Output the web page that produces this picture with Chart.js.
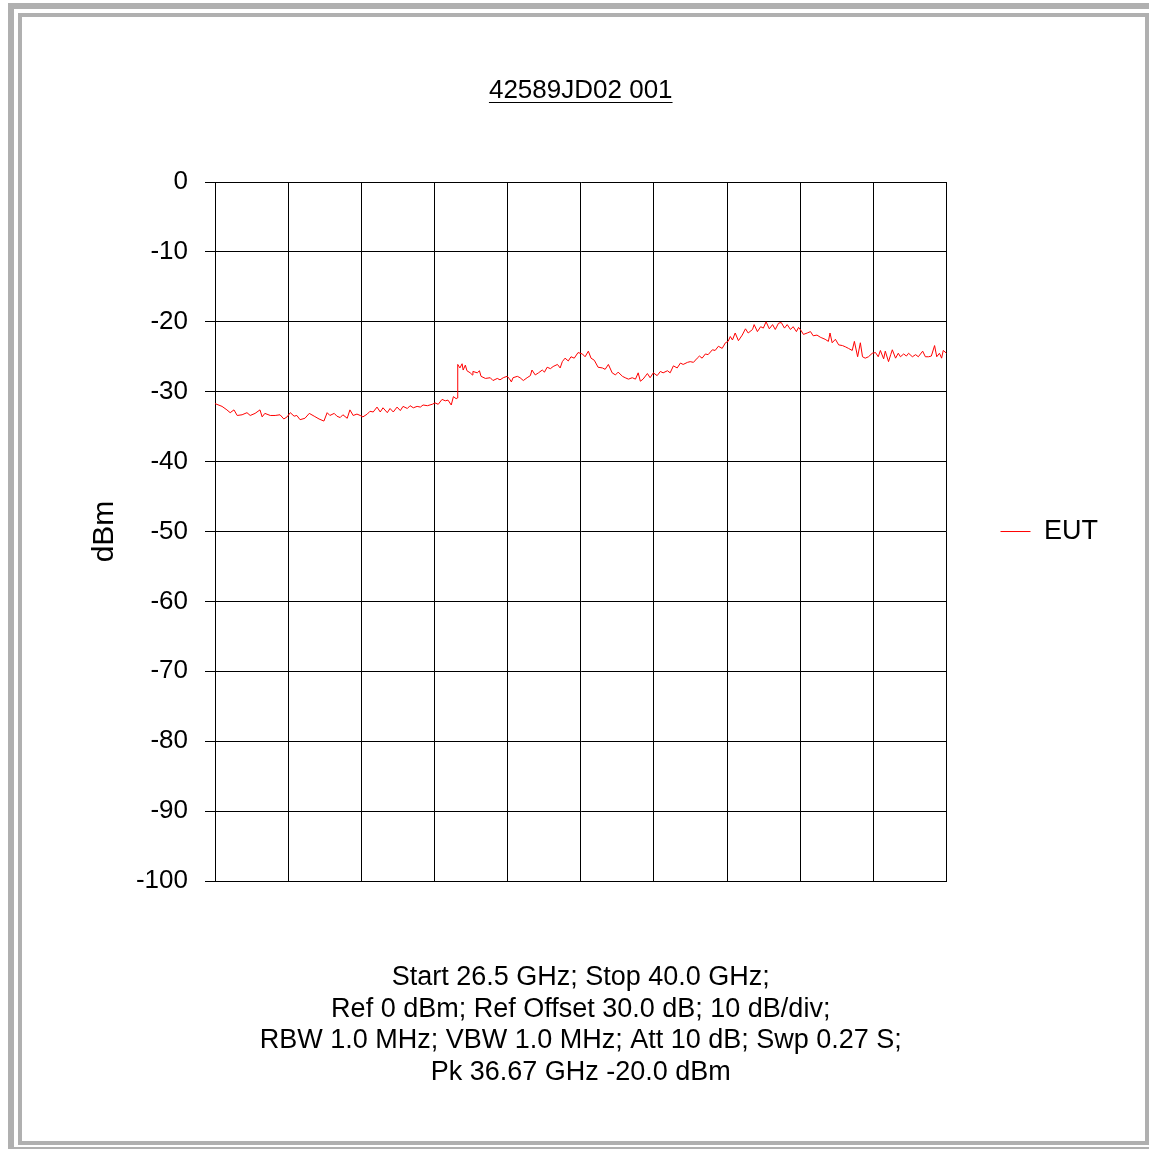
<!DOCTYPE html>
<html>
<head>
<meta charset="utf-8">
<title>42589JD02 001</title>
<script src="https://cdn.jsdelivr.net/npm/chart.js"></script>
<style>
  html, body { margin: 0; padding: 0; background: #fff; overflow: hidden; }
  #wrap { position: relative; width: 1149px; height: 1149px; }
  .frame { position: absolute; box-sizing: border-box; border: solid #b0b0b0; }
  #outer { left: 8px; top: 3px; width: 1200px; height: 1150px; border-width: 6px 0 6px 6px; }
  #inner { left: 18px; top: 13px; width: 1131px; height: 1132px; border-width: 4px; }
  #chartBox { position: absolute; left: 0; top: 0; width: 1149px; height: 1149px; }
</style>
</head>
<body>
<div id="wrap">
  <div class="frame" id="outer"></div>
  <div class="frame" id="inner"></div>
  <div id="chartBox"><canvas id="myChart"></canvas></div>
</div>
<script>
// sweep 26.5 - 40.0 GHz
var freqs = [26.50, 26.63, 26.72, 26.78, 26.85, 26.91, 27.00, 27.09, 27.15, 27.24,
27.33, 27.37, 27.42, 27.52, 27.61, 27.70, 27.77, 27.83, 27.89, 27.96,
28.01, 28.07, 28.16, 28.24, 28.33, 28.42, 28.51, 28.57, 28.62, 28.70,
28.75, 28.81, 28.86, 28.94, 28.99, 29.05, 29.12, 29.18, 29.23, 29.31,
29.36, 29.42, 29.49, 29.55, 29.60, 29.68, 29.73, 29.79, 29.86, 29.92,
29.97, 30.05, 30.10, 30.16, 30.23, 30.29, 30.34, 30.42, 30.51, 30.56,
30.62, 30.69, 30.75, 30.80, 30.86, 30.90, 30.95, 30.97, 30.98, 31.02,
31.06, 31.08, 31.12, 31.15, 31.21, 31.25, 31.26, 31.34, 31.38, 31.41,
31.49, 31.58, 31.63, 31.71, 31.76, 31.82, 31.89, 31.93, 31.97, 32.00,
32.08, 32.13, 32.19, 32.26, 32.32, 32.35, 32.41, 32.47, 32.54, 32.58,
32.63, 32.69, 32.74, 32.82, 32.87, 32.91, 32.96, 33.02, 33.07, 33.13,
33.20, 33.28, 33.33, 33.39, 33.44, 33.50, 33.57, 33.65, 33.70, 33.76,
33.83, 33.89, 33.94, 34.02, 34.07, 34.13, 34.20, 34.26, 34.31, 34.35,
34.40, 34.48, 34.53, 34.59, 34.66, 34.72, 34.77, 34.85, 34.90, 34.96,
35.03, 35.09, 35.14, 35.22, 35.27, 35.33, 35.40, 35.44, 35.49, 35.55,
35.60, 35.68, 35.73, 35.79, 35.86, 35.92, 35.97, 36.01, 36.05, 36.10,
36.16, 36.23, 36.29, 36.34, 36.42, 36.45, 36.51, 36.57, 36.62, 36.67,
36.73, 36.79, 36.84, 36.90, 36.95, 37.01, 37.06, 37.12, 37.17, 37.23,
37.27, 37.32, 37.36, 37.43, 37.49, 37.54, 37.61, 37.67, 37.70, 37.76,
37.82, 37.85, 37.89, 37.95, 38.01, 38.08, 38.14, 38.19, 38.26, 38.30,
38.36, 38.41, 38.45, 38.50, 38.56, 38.63, 38.69, 38.74, 38.78, 38.84,
38.87, 38.93, 38.97, 39.00, 39.06, 39.11, 39.15, 39.21, 39.26, 39.30,
39.37, 39.43, 39.48, 39.56, 39.61, 39.67, 39.72, 39.78, 39.82, 39.87,
39.91, 39.94, 40.00];

var eut = [-31.7, -32.1, -32.6, -33.0, -32.6, -33.4, -33.3, -33.0, -33.4, -33.1,
-32.6, -33.6, -33.1, -33.4, -33.4, -33.3, -33.9, -33.6, -33.0, -33.5,
-33.4, -34.0, -33.8, -33.1, -33.5, -33.9, -34.2, -33.0, -33.4, -33.1,
-33.5, -33.7, -33.3, -33.8, -32.6, -33.4, -33.2, -33.4, -33.6, -33.2,
-32.8, -32.9, -32.2, -32.9, -32.3, -33.0, -32.4, -32.9, -32.2, -32.7,
-32.1, -32.4, -32.0, -32.3, -32.1, -32.2, -31.9, -32.0, -31.8, -31.6,
-31.8, -31.1, -31.3, -31.2, -31.9, -30.7, -31.0, -30.9, -26.1, -26.6,
-26.0, -26.9, -26.2, -27.0, -27.3, -27.6, -27.1, -27.3, -27.0, -27.8,
-28.1, -28.0, -28.4, -28.1, -28.3, -28.0, -27.8, -28.1, -28.6, -28.0,
-27.8, -28.0, -28.4, -28.0, -27.7, -26.9, -27.6, -27.3, -26.9, -27.2,
-26.5, -26.7, -26.4, -26.1, -26.6, -25.7, -25.2, -25.6, -25.0, -25.2,
-24.4, -24.6, -25.0, -24.2, -25.2, -25.5, -26.5, -26.6, -26.8, -26.1,
-27.3, -27.6, -27.2, -27.8, -28.0, -28.2, -28.0, -28.2, -27.3, -28.5,
-28.2, -27.4, -28.0, -27.3, -27.7, -27.1, -27.3, -27.0, -27.3, -26.3,
-26.6, -25.9, -26.1, -25.8, -25.7, -25.8, -25.2, -24.9, -25.2, -24.6,
-24.7, -24.0, -24.1, -23.5, -23.8, -23.0, -22.8, -22.1, -22.6, -21.6,
-22.7, -21.9, -21.0, -21.6, -21.1, -20.4, -21.4, -20.7, -20.9, -20.0,
-21.0, -20.4, -21.1, -20.2, -20.1, -20.9, -20.4, -21.1, -20.7, -21.4,
-20.8, -21.3, -21.8, -21.6, -21.4, -22.0, -21.9, -22.2, -22.3, -22.5,
-22.8, -21.6, -23.0, -22.5, -23.3, -23.4, -23.6, -23.8, -24.1, -22.8,
-25.0, -23.0, -25.0, -25.2, -25.0, -24.5, -24.4, -25.0, -24.1, -25.3,
-24.2, -25.7, -24.7, -24.0, -25.2, -24.5, -25.0, -24.6, -24.9, -24.5,
-25.0, -24.7, -25.0, -24.2, -25.0, -25.0, -24.9, -23.4, -25.0, -24.5,
-25.2, -24.1, -24.5];

var chartTitle = '42589JD02 001';
var footerLines = [
  'Start 26.5 GHz; Stop 40.0 GHz;',
  'Ref 0 dBm; Ref Offset 30.0 dB; 10 dB/div;',
  'RBW 1.0 MHz; VBW 1.0 MHz; Att 10 dB; Swp 0.27 S;',
  'Pk 36.67 GHz -20.0 dBm'
];
var yMin = -100, yMax = 0, yStep = 10;
var xMin = 26.5, xMax = 40.0, xStep = 1.35;

var FONT = "'Liberation Sans', Arial, sans-serif";
Chart.defaults.color = '#000';
Chart.defaults.font.family = FONT;

var points = freqs.map(function (f, i) { return { x: f, y: eut[i] }; });

// title underline
var underline = {
  id: 'underline',
  afterDraw: function (chart) {
    var tb = chart.titleBlock;
    if (!tb) return;
    var ctx = chart.ctx;
    ctx.save();
    ctx.font = '26px ' + FONT;
    var w = ctx.measureText(chartTitle).width;
    var cx = (tb.left + tb.right) / 2;
    ctx.strokeStyle = '#000';
    ctx.lineWidth = 1;
    ctx.beginPath();
    ctx.moveTo(cx - w / 2, 102.5);
    ctx.lineTo(cx + w / 2, 102.5);
    ctx.stroke();
    ctx.restore();
  }
};

var config = {
  type: 'line',
  data: {
    datasets: [{
      label: 'EUT',
      data: points,
      borderColor: '#ff0000',
      backgroundColor: '#ff0000',
      borderWidth: 1,
      pointRadius: 0,
      tension: 0,
      fill: false
    }]
  },
  options: {
    responsive: true,
    maintainAspectRatio: false,
    animation: false,
    layout: { padding: { left: 0, right: 41, top: 0, bottom: 0 } },
    plugins: {
      title: {
        display: true,
        text: chartTitle,
        fullSize: false,
        font: { size: 26, weight: 'normal', lineHeight: 1.2 },
        padding: { top: 75.4, bottom: 75.4 }
      },
      subtitle: {
        display: true,
        position: 'bottom',
        text: footerLines,
        fullSize: false,
        font: { size: 27, weight: 'normal', lineHeight: 1.17 },
        padding: { top: 81, bottom: 60.6 }
      },
      legend: {
        position: 'right',
        fullSize: false,
        labels: {
          usePointStyle: true,
          pointStyle: 'line',
          pointStyleWidth: 30,
          padding: 54,
          font: { size: 27 }
        }
      },
      tooltip: { enabled: false }
    },
    scales: {
      x: {
        type: 'linear',
        min: xMin,
        max: xMax,
        ticks: { display: false, stepSize: xStep },
        grid: { color: '#000', drawTicks: false },
        border: { color: '#000' }
      },
      y: {
        min: yMin,
        max: yMax,
        ticks: { stepSize: yStep, padding: 17, font: { size: 26 } },
        grid: { color: '#000', tickLength: 10 },
        border: { color: '#000' },
        title: {
          display: true,
          text: 'dBm',
          font: { size: 30, lineHeight: 1.2 },
          padding: { top: 87, bottom: 0 }
        },
        afterFit: function (scale) { scale.width = 215; }
      }
    }
  },
  plugins: [underline]
};

var ctx = document.getElementById('myChart').getContext('2d');
var myChart = new Chart(ctx, config);
</script>
</body>
</html>
